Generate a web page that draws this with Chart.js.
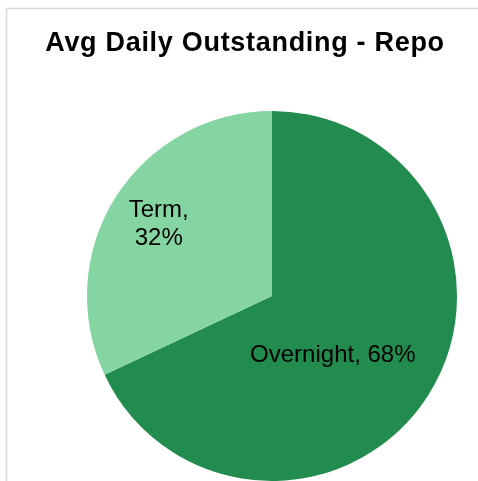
<!DOCTYPE html>
<html>
<head>
<meta charset="utf-8">
<script src="https://cdn.jsdelivr.net/npm/chart.js@4"></script>
<style>
html,body{margin:0;padding:0;background:#fff;}
#wrap{position:relative;width:478px;height:481px;}
</style>
</head>
<body>
<div id="wrap"><canvas id="c" width="478" height="481"></canvas></div>
<script>
const titleText = "Avg Daily Outstanding - Repo";
const categories = ["Overnight", "Term"];
const values = [68, 32];
const colors = ["rgb(34,139,78)", "rgb(133,213,163)"];
const labelLines = [["Overnight, 68%"], ["Term,", "32%"]];
const labelRadiusFrac = [0.46, 0.725];
const labelAngleShift = [12, 0];

const deco = {
  id: 'deco',
  beforeDraw(chart) {
    const ctx = chart.ctx;
    ctx.save();
    ctx.fillStyle = '#fff';
    ctx.fillRect(0, 0, chart.width, chart.height);
    ctx.strokeStyle = '#d9d9d9';
    ctx.lineWidth = 1.5;
    ctx.beginPath();
    ctx.moveTo(6.5, chart.height);
    ctx.lineTo(6.5, 8.5);
    ctx.lineTo(chart.width, 8.5);
    ctx.stroke();
    ctx.fillStyle = '#000';
    ctx.font = 'bold 27px "Liberation Sans", Arial, sans-serif';
    try { ctx.letterSpacing = '0.7px'; } catch (e) {}
    ctx.textAlign = 'center';
    ctx.textBaseline = 'middle';
    ctx.fillText(titleText, 245, 44);
    try { ctx.letterSpacing = '0px'; } catch (e) {}
    ctx.restore();
  },
  afterDatasetsDraw(chart) {
    const ctx = chart.ctx;
    const meta = chart.getDatasetMeta(0);
    ctx.save();
    ctx.fillStyle = '#000';
    ctx.font = '24px "Liberation Sans", Arial, sans-serif';
    ctx.textAlign = 'center';
    ctx.textBaseline = 'middle';
    meta.data.forEach((arc, i) => {
      const p = arc.getProps(['x','y','startAngle','endAngle','outerRadius'], true);
      const mid = (p.startAngle + p.endAngle) / 2 + labelAngleShift[i] * Math.PI / 180;
      const r = p.outerRadius * labelRadiusFrac[i];
      const cx = p.x + Math.cos(mid) * r;
      const cy = p.y + Math.sin(mid) * r;
      const lines = labelLines[i];
      const lh = 28;
      lines.forEach((t, k) => {
        ctx.fillText(t, cx, cy + (k - (lines.length - 1) / 2) * lh);
      });
    });
    ctx.restore();
  }
};

new Chart(document.getElementById('c'), {
  type: 'pie',
  data: {
    labels: categories,
    datasets: [{
      data: values,
      backgroundColor: colors,
      borderWidth: 0,
      hoverOffset: 0,
      offset: 0
    }]
  },
  options: {
    responsive: false,
    animation: false,
    events: [],
    layout: { padding: { top: 111, left: 87, right: 21, bottom: 0 } },
    plugins: {
      legend: { display: false },
      title: { display: false },
      tooltip: { enabled: false }
    }
  },
  plugins: [deco]
});
</script>
</body>
</html>
